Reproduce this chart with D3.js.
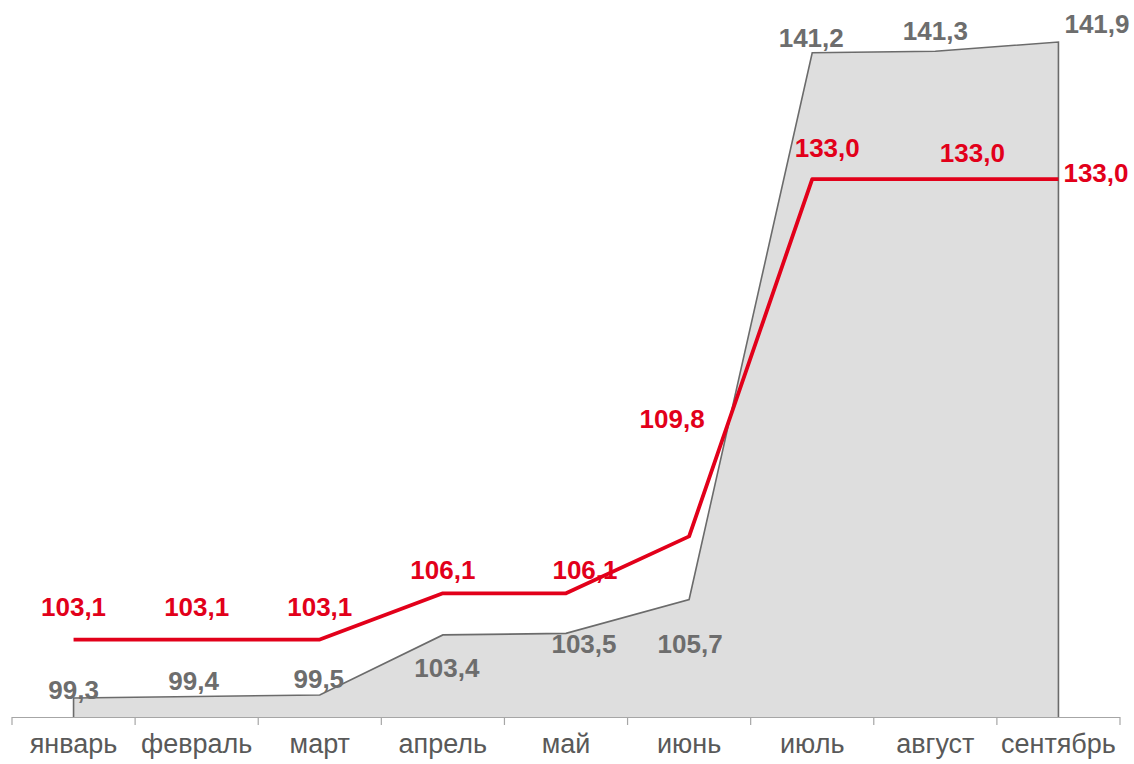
<!DOCTYPE html>
<html>
<head>
<meta charset="utf-8">
<script src="https://cdn.jsdelivr.net/npm/d3@7"></script>
<style>
  body { margin: 0; background: #fff; }
  svg { display: block; font-family: "Liberation Sans", Arial, sans-serif; }
</style>
</head>
<body>
<svg id="visu" width="1134" height="764"></svg>
<script>
// data
var months = ["январь", "февраль", "март", "апрель", "май", "июнь", "июль", "август", "сентябрь"];
var redValues = [103.1, 103.1, 103.1, 106.1, 106.1, 109.8, 133.0, 133.0, 133.0];
var grayValues = [99.3, 99.4, 99.5, 103.4, 103.5, 105.7, 141.2, 141.3, 141.9];

// label placement (dx, dy from point, anchor)
var redLabelPos = [
  [0, -24, "middle"], [0, -24, "middle"], [0, -24, "middle"],
  [0, -14, "middle"], [19, -14, "middle"], [-17, -108, "middle"],
  [15, -22, "middle"], [37, -17, "middle"], [5, 3, "start"]
];
var grayLabelPos = [
  [0, 1, "middle"], [-3, -7, "middle"], [-1, -7, "middle"],
  [4, 42, "middle"], [18, 20, "middle"], [1, 54, "middle"],
  [-1, -6, "middle"], [0, -11, "middle"], [6, -9, "start"]
];

var vis = d3.select("#visu"),
    WIDTH = 1134,
    HEIGHT = 764,
    MARGINS = { left: 12, right: 14, top: 42, bottom: 47 };

var xScale = d3.scaleBand()
  .domain(months)
  .range([MARGINS.left, WIDTH - MARGINS.right])
  .padding(0);

var yScale = d3.scaleLinear()
  .domain([98.07, 141.9])
  .range([HEIGHT - MARGINS.bottom, MARGINS.top]);

function cx(i) {
  return xScale(months[i]) + xScale.bandwidth() / 2;
}

var baseY = yScale.range()[0];

// gray area
var areaGen = d3.area()
  .x(function(d, i) { return cx(i); })
  .y0(baseY)
  .y1(function(d) { return yScale(d); });

vis.append("path")
  .attr("d", areaGen(grayValues))
  .attr("fill", "#dedede")
  .attr("stroke", "none");

// outline of area incl. vertical sides
var outline = [[cx(0), baseY]].concat(grayValues.map(function(d, i) { return [cx(i), yScale(d)]; }))
  .concat([[cx(grayValues.length - 1), baseY]]);
vis.append("path")
  .attr("d", d3.line()(outline))
  .attr("fill", "none")
  .attr("stroke", "#6b6b6b")
  .attr("stroke-width", 1.6);

// axis
var axisG = vis.append("g");
axisG.append("line")
  .attr("x1", xScale.range()[0]).attr("x2", xScale.range()[1])
  .attr("y1", baseY + 0.5).attr("y2", baseY + 0.5)
  .attr("stroke", "#a6a6a6").attr("stroke-width", 1.2);
var tickPos = months.map(function(m) { return xScale(m); }).concat([xScale.range()[1]]);
axisG.selectAll("line.tick").data(tickPos).enter().append("line")
  .attr("class", "tick")
  .attr("x1", function(d) { return d; }).attr("x2", function(d) { return d; })
  .attr("y1", baseY).attr("y2", baseY + 8)
  .attr("stroke", "#a6a6a6").attr("stroke-width", 1.2);
axisG.selectAll("text").data(months).enter().append("text")
  .attr("x", function(d, i) { return cx(i); })
  .attr("y", baseY + 36)
  .attr("text-anchor", "middle")
  .attr("fill", "#595959")
  .style("font-size", "27px")
  .text(function(d) { return d; });

// red line
var lineGen = d3.line()
  .x(function(d, i) { return cx(i); })
  .y(function(d) { return yScale(d); });

vis.append("path")
  .attr("d", lineGen(redValues))
  .attr("fill", "none")
  .attr("stroke", "#e2001a")
  .attr("stroke-width", 3.8)
  .attr("stroke-linejoin", "round");

function fmt(v) { return v.toFixed(1).replace(".", ","); }

vis.selectAll("text.gray").data(grayValues).enter().append("text")
  .attr("class", "gray")
  .attr("x", function(d, i) { return cx(i) + grayLabelPos[i][0]; })
  .attr("y", function(d, i) { return yScale(d) + grayLabelPos[i][1]; })
  .attr("text-anchor", function(d, i) { return grayLabelPos[i][2]; })
  .attr("fill", "#6d6d6d")
  .style("font-size", "26px")
  .style("font-weight", "bold")
  .text(fmt);

vis.selectAll("text.red").data(redValues).enter().append("text")
  .attr("class", "red")
  .attr("x", function(d, i) { return cx(i) + redLabelPos[i][0]; })
  .attr("y", function(d, i) { return yScale(d) + redLabelPos[i][1]; })
  .attr("text-anchor", function(d, i) { return redLabelPos[i][2]; })
  .attr("fill", "#e2001a")
  .style("font-size", "26px")
  .style("font-weight", "bold")
  .text(fmt);
</script>
</body>
</html>
